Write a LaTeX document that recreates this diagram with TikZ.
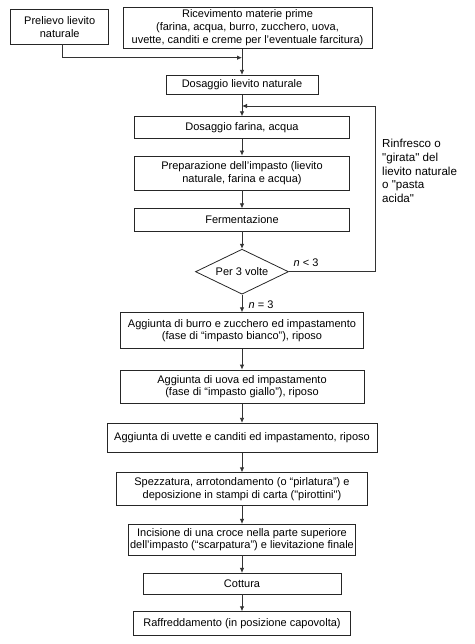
\documentclass[tikz,border=0pt]{standalone}
\usepackage{fontspec}
\setmainfont{Liberation Sans}
\usetikzlibrary{arrows.meta, shapes.geometric}

\begin{document}
\begin{tikzpicture}[x=1pt, y=-1pt,
  font=\fontsize{11}{12.8}\selectfont,
  box/.style={draw=black!85, line width=0.8pt, align=center, inner sep=1pt},
  flow/.style={draw=black!80, line width=0.8pt, -{Latex[length=5pt,width=4.5pt]}},
  test/.style={draw=black!85, line width=0.8pt, diamond, aspect=2.07, inner sep=0pt,
               minimum width=93pt, minimum height=45pt}]
\useasboundingbox (0,0) rectangle (474,644);
% Coordinates
\coordinate (j1) at (242,57.7);
\coordinate (j2) at (242,106);
% Boxes
\node[box, minimum width=98pt, minimum height=34.7pt] (pre) at (59.7,26.7)
  {Prelievo lievito\\naturale};
\node[box, minimum width=249pt, minimum height=41pt] (ric) at (247.5,27.8)
  {Ricevimento materie prime\\(farina, acqua, burro, zucchero, uova,\\uvette, canditi e creme per l’eventuale farcitura)};
\node[box, minimum width=152pt, minimum height=19.4pt] (doslv) at (242,85)
  {Dosaggio lievito naturale};
\node[box, minimum width=215pt, minimum height=21.6pt] (dosfa) at (242,127.5)
  {Dosaggio farina, acqua};
\node[box, minimum width=215pt, minimum height=34pt] (prep) at (242,173)
  {Preparazione dell’impasto (lievito\\naturale, farina e acqua)};
\node[box, minimum width=215pt, minimum height=22.3pt] (ferm) at (242,219.9)
  {Fermentazione};
\node[test] (volte) at (242,271.7) {Per 3 volte};
\node[box, minimum width=243pt, minimum height=36pt] (burro) at (242,330.7)
  {Aggiunta di burro e zucchero ed impastamento\\(fase di “impasto bianco”), riposo};
\node[box, minimum width=244pt, minimum height=33.3pt] (uova) at (242,386.7)
  {Aggiunta di uova ed impastamento\\(fase di “impasto giallo”), riposo};
\node[box, minimum width=270pt, minimum height=29.4pt] (uvette) at (242,438)
  {Aggiunta di uvette e canditi ed impastamento, riposo};
\node[box, minimum width=250.7pt, minimum height=32.3pt] (spezz) at (242,488.9)
  {Spezzatura, arrotondamento (o “pirlatura”) e\\deposizione in stampi di carta (\textquotedbl pirottini\textquotedbl)};
\node[box, minimum width=227pt, minimum height=30.7pt] (incis) at (242,539.7)
  {Incisione di una croce nella parte superiore\\dell’impasto (“scarpatura”) e lievitazione finale};
\node[box, minimum width=198pt, minimum height=20.7pt] (cott) at (242,583.7)
  {Cottura};
\node[box, minimum width=216.7pt, minimum height=23.3pt] (raffr) at (242,623.3)
  {Raffreddamento (in posizione capovolta)};
% Side note
\node[anchor=west, align=left, inner sep=0pt, font=\fontsize{11.6}{13.6}\selectfont] (rinfr) at (382,171)
  {Rinfresco o\\\textquotedbl girata\textquotedbl{} del\\lievito naturale\\o \textquotedbl pasta\\acida\textquotedbl};
% Connectors
\draw[flow] ([xshift=3pt]pre.south) |- (j1);
\draw[flow] (ric.south -| j1) -- (doslv.north);
\draw[flow] (doslv) -- (dosfa);
\draw[flow] (dosfa) -- (prep);
\draw[flow] (prep) -- (ferm);
\draw[flow] (ferm) -- (volte);
\draw[flow] (volte.east) -- node[above, pos=0.2, yshift=1pt] {\textit{n} < 3} ++(86,0) |- (j2);
\draw[flow] (volte) -- node[right, xshift=3pt, yshift=-1pt] {\textit{n} = 3} (burro);
\draw[flow] (burro) -- (uova);
\draw[flow] (uova) -- (uvette);
\draw[flow] (uvette) -- (spezz);
\draw[flow] (spezz) -- (incis);
\draw[flow] (incis) -- (cott);
\draw[flow] (cott) -- (raffr);
\end{tikzpicture}
\end{document}
